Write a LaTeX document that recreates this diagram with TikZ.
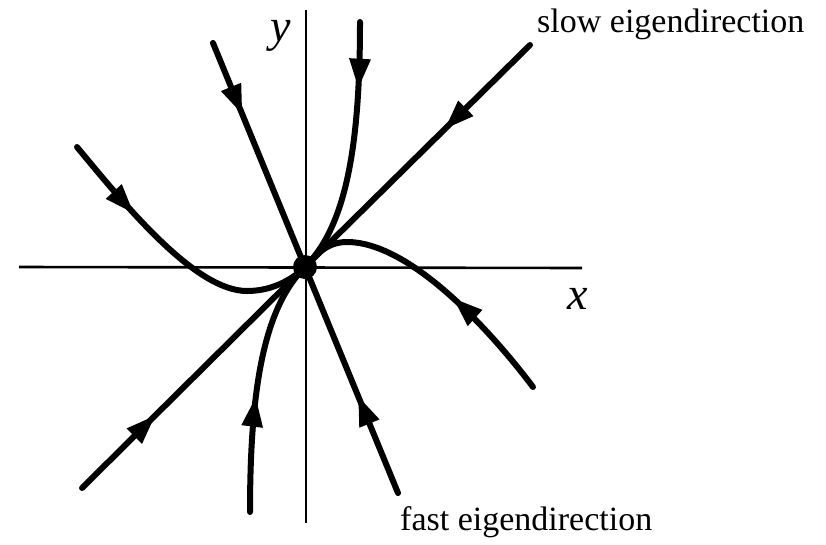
\documentclass[tikz,border=0pt]{standalone}
\usepackage{fontspec}
\setmainfont{Liberation Serif}
\usetikzlibrary{arrows.meta,decorations.markings}
\begin{document}
\begin{tikzpicture}[x=1pt,y=-1pt,
  traj/.style={line width=6pt, line cap=round},
  axisline/.style={line width=2.6pt},
  arr/.style={postaction={decorate}, decoration={markings, mark=at position #1 with {\arrow{Triangle[length=30pt,width=20pt]}}}},
  lab/.style={font=\fontsize{34}{40}\selectfont, inner sep=0pt},
  axlab/.style={font=\fontsize{46}{50}\selectfont\itshape, inner sep=0pt}]
\useasboundingbox (0,0) rectangle (826,544);
% axes
\coordinate (xl) at (19,267);
\coordinate (xr) at (582,268);
\coordinate (yt) at (306,10);
\coordinate (yb) at (306,523);
\draw[axisline] (xl) -- (xr);
\draw[axisline] (yb) -- (yt);
\node[axlab] (xlab) at (578,299) {x};
\node[axlab] (ylab) at (281,36) {y};
% origin
\coordinate (O) at (305,267);
% eigendirections
\coordinate (s1) at (530,45);
\coordinate (s2) at (82,488);
\coordinate (f1) at (213,43);
\coordinate (f2) at (398,493);
\draw[traj, arr=0.38] (s1) -- (O);
\draw[traj, arr=0.33] (s2) -- (O);
\draw[traj, arr=0.32] (f1) -- (O);
\draw[traj, arr=0.43] (f2) -- (O);
% curved trajectories
\coordinate (t1) at (360,22);
\coordinate (b1) at (250,512);
\coordinate (l1) at (77,147);
\coordinate (lm) at (247,291);
\coordinate (r1) at (533,387);
\coordinate (rm) at (347,242);
\draw[traj, arr=0.26] (t1) .. controls (360,150) and (345,227) .. (O);
\draw[traj, arr=0.45] (b1) .. controls (250,384) and (265,307) .. (O);
\draw[traj, arr=0.30] (l1) .. controls (125,205) and (195,291) .. (lm) .. controls (275,291) and (295,277) .. (O);
\draw[traj, arr=0.41] (r1) .. controls (490,330) and (410,242) .. (rm) .. controls (325,242) and (315,257) .. (O);
% fixed point
\node[circle, fill=black, minimum size=24pt, inner sep=0pt] (dot) at (O) {};
% labels
\node[lab, anchor=base west] (slow) at (537,32) {slow eigendirection};
\node[lab, anchor=base west] (fast) at (400,530) {fast eigendirection};
\end{tikzpicture}
\end{document}
